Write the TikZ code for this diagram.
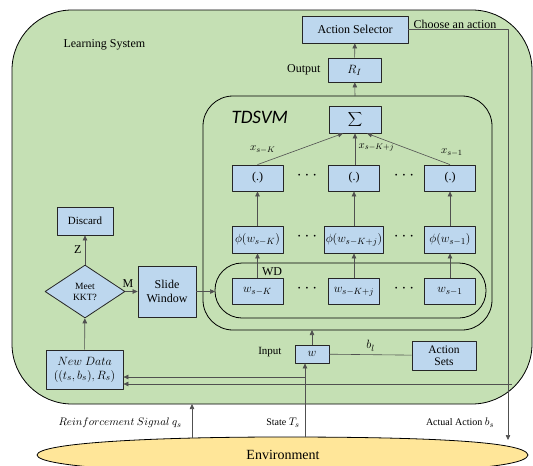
\documentclass[tikz,border=0pt]{standalone}
\usepackage{fontspec}
\setmainfont{Liberation Serif}
\newfontfamily\calfont{Carlito}
\usetikzlibrary{shapes.geometric,arrows.meta}
\DeclareMathSizes{12}{12.5}{9.5}{7}
\DeclareMathSizes{10}{11}{8.5}{6}
\definecolor{lsgreen}{HTML}{C5E0B4}
\definecolor{boxblue}{HTML}{BDD7EE}
\definecolor{envyellow}{HTML}{FFE699}
\definecolor{lnkgray}{HTML}{505050}
\begin{document}
\begin{tikzpicture}[x=1pt, y=-1pt, font=\fontsize{12}{14}\selectfont, line join=round, >={Triangle[length=5pt,width=4.5pt]}]
	\tikzset{blk/.style={draw=black!85, fill=boxblue, line width=0.8pt, inner sep=1pt},
		lnk/.style={draw=lnkgray, line width=0.6pt},
		small/.style={font=\fontsize{10}{12}\selectfont},
		dots/.style={font=\fontsize{17}{17}\selectfont, inner sep=0pt}}
	\useasboundingbox (0,0) rectangle (533,466);
	\clip (0,0) rectangle (533,466);
	% containers
	\draw[fill=lsgreen, line width=0.8pt, rounded corners=60] (12,10) rectangle (532,404);
	\node[anchor=west] (lslab) at (60,45) {Learning System};
	\draw[line width=0.8pt, rounded corners=30] (203,96) rectangle (492,330);
	\node[anchor=west, font=\calfont\itshape\fontsize{19}{22}\selectfont] (tdlab) at (228,117) {TDSVM};
	\draw[line width=0.8pt, rounded corners=27] (215,263) rectangle (486,318);
	\node (wdlab) at (272,272) {WD};
	\coordinate (tdtop) at (355,96);
	\coordinate (tdbot) at (312,330);
	\coordinate (wdleft) at (215,291.5);
	\coordinate (lsbot) at (192,404);
	% environment
	\draw[fill=envyellow, line width=0.8pt] (37,455) .. controls (38,443) and (150,437) .. (283,437)
		.. controls (420,437) and (526,441) .. (528,455) .. controls (526,469) and (420,473) .. (283,473)
		.. controls (150,473) and (38,467) .. (37,455) -- cycle;
	\node[font=\fontsize{14}{16}\selectfont] (env) at (283,455) {Environment};
	\coordinate (reinf) at (192,438);
	\coordinate (stateT) at (305,437);
	\coordinate (actend) at (508,440);
	% top of the system
	\node[blk, minimum width=106, minimum height=27] (sel) at (355,29.5) {Action Selector};
	\node[blk, minimum width=53, minimum height=24] (ri) at (354.5,70) {$R_I$};
	\node[anchor=east] (outlab) at (324,70) {Output};
	\node[blk, minimum width=52, minimum height=27] (sum) at (355,119.5) {$\displaystyle\sum$};
	\draw[lnk,->] (ri) -- (sel);
	\draw[lnk,->] (tdtop) -- (ri);
	% the three columns
	\foreach \n/\x/\sub in {a/257.5/{s-K}, b/354/{s-K+j}, c/450/{s-1}}{
		\node[blk, minimum width=51, minimum height=26] (dot\n) at (\x,178) {(.)};
		\node[blk, minimum width=51, minimum height=27] (phi\n) at (\x,239.5) {$\phi(w_{\sub})$};
		\node[blk, minimum width=51, minimum height=26] (w\n) at (\x,291.5) {$w_{\sub}$};
		\draw[lnk,->] (w\n) -- (phi\n);
		\draw[lnk,->] (phi\n) -- (dot\n);
	}
	\foreach \y in {178,239,291}{
		\node[dots] (dl\y) at (307,\y-2) {$\cdots$};
		\node[dots] (dr\y) at (404,\y-2) {$\cdots$};
	}
	\draw[lnk,->] (dota.north) -- node[small, above left, pos=0.25]{$x_{s-K}$} ([xshift=-12pt]sum.south);
	\draw[lnk,->] (dotb.north -| sum.south) -- node[small, right, pos=0.55]{$x_{s-K+j}$} (sum.south);
	\draw[lnk,->] (dotc.north) -- node[small, above right, pos=0.15]{$x_{s-1}$} ([xshift=12pt]sum.south);
	% left part
	\node[blk, diamond, minimum width=80, minimum height=53, inner sep=0pt, align=center, font=\fontsize{9.5}{11}\selectfont] (kkt) at (85,291.5) {Meet\\KKT?};
	\node[blk, minimum width=56, minimum height=28, font=\fontsize{11}{13}\selectfont] (disc) at (85,221) {Discard};
	\node[blk, minimum width=58, minimum height=51, align=center] (slide) at (167,291.5) {Slide\\Window};
	\node[blk, minimum width=77, minimum height=39, align=center] (newd) at (84.5,369.5) {$New\ Data$\\$((t_s,b_s),R_s)$};
	\draw[lnk,->] (newd) -- (kkt);
	\draw[lnk,->] (kkt) -- node[left]{Z} (disc);
	\draw[lnk,->] (kkt) -- node[above, pos=0.2]{M} (slide);
	\draw[lnk,->] (slide) -- (wdleft);
	% input
	\node[blk, minimum width=34, minimum height=18] (win) at (312,354) {$w$};
	\node[anchor=east, font=\fontsize{11}{13}\selectfont] (inlab) at (285,352) {Input};
	\node[blk, minimum width=64, minimum height=29, align=center, font=\fontsize{11.5}{12.5}\selectfont] (aset) at (444,355.5) {Action\\Sets};
	\draw[lnk] (aset) -- node[above]{$b_l$} (win);
	\draw[lnk,->] (win) -- (tdbot);
	% feedback
	\draw[lnk,->] (sel.east) -| node[anchor=south west, pos=0.02, inner sep=1pt]{Choose an action} (actend);
	\draw[lnk,->] (reinf) -- (lsbot);
	\draw[lnk,->] (stateT) -- (stateT |- win.south);
	\coordinate (tapS) at (305,377);
	\coordinate (tapA) at (512,384);
	\draw[lnk,->] (tapS) -- (tapS -| newd.east);
	\draw[lnk,->] (tapA) -- (tapA -| newd.east);
	\node[small] (rslab) at (120,423) {$Reinforcement\ Signal\ q_s$};
	\node[small] (stlab) at (283,423) {State $T_s$};
	\node[small] (aclab) at (460,423) {Actual Action $b_s$};
\end{tikzpicture}
\end{document}
